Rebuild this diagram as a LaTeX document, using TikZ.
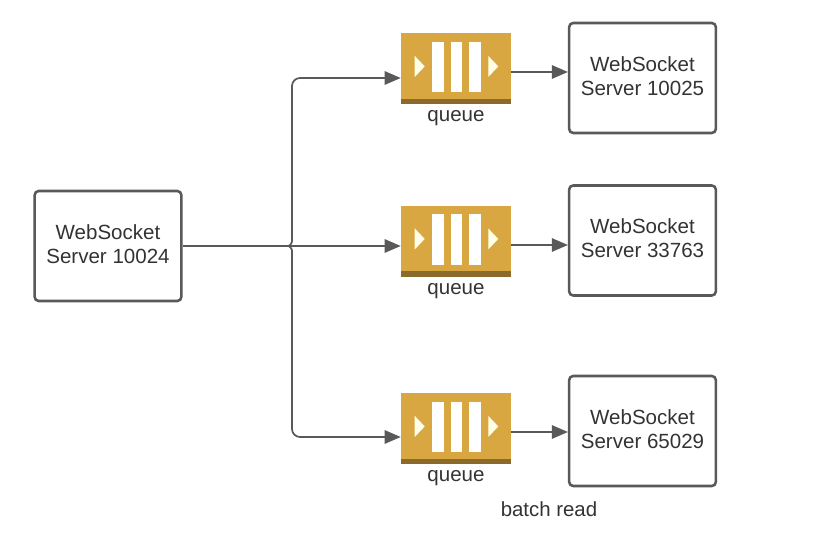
\documentclass[tikz,border=0pt]{standalone}
\usepackage{fontspec}
\setmainfont{Liberation Sans}
\usetikzlibrary{arrows.meta}
\definecolor{gold}{HTML}{D9A741}
\definecolor{goldd}{HTML}{8C6A2C}
\definecolor{ln}{HTML}{595959}
\definecolor{tx}{HTML}{333333}
\tikzset{
  serverbox/.style={draw=ln,line width=1.9pt,rounded corners=3pt,fill=white,minimum width=110pt,minimum height=82.5pt,inner sep=0pt,align=center,text=tx,font=\fontsize{15.4}{18}\selectfont},
  queuebox/.style={fill=gold,minimum width=82.5pt,minimum height=53pt,inner sep=0pt},
  qlabel/.style={text=tx,font=\fontsize{15.4}{18}\selectfont,inner sep=0pt},
  plainlabel/.style={text=tx,font=\fontsize{15.3}{18}\selectfont,inner sep=0pt},
  conn/.style={draw=ln,line width=1.3pt,-{Triangle[length=12pt,width=10pt]}},
  connline/.style={draw=ln,line width=1.3pt},
  pic tri/.style={fill=white!90!yellow}
}
\newcommand{\queueicon}[1]{%
  \fill[goldd] ([yshift=4pt]#1.south west) rectangle (#1.south east);
  \foreach \dx in {-13.7,0.3,14.3}{
    \fill[white] ([xshift=\dx pt-4.4pt,yshift=-6.8pt]#1.north) rectangle ([xshift=\dx pt+4.4pt,yshift=-44.5pt]#1.north);
  }
  \fill[pic tri] ([xshift=10.5pt,yshift=-17.25pt]#1.north west) -- ++(7.5pt,-7.9pt) -- ++(-7.5pt,-7.9pt) -- cycle;
  \fill[pic tri] ([xshift=-17.25pt,yshift=-17.25pt]#1.north east) -- ++(7.5pt,-7.9pt) -- ++(-7.5pt,-7.9pt) -- cycle;
}
\begin{document}
\begin{tikzpicture}[x=0.75pt,y=-0.75pt]
\useasboundingbox (0,0) rectangle (828,559);
\node[serverbox] (src) at (108,246) {\raisebox{3.3pt}{WebSocket}\\\raisebox{3.3pt}{Server 10024}};
\node[serverbox] (s1) at (642.5,78) {\raisebox{3.3pt}{WebSocket}\\\raisebox{3.3pt}{Server 10025}};
\node[serverbox] (s2) at (642.5,240.5) {\raisebox{3.3pt}{WebSocket}\\\raisebox{3.3pt}{Server 33763}};
\node[serverbox] (s3) at (642.5,431) {\raisebox{3.3pt}{WebSocket}\\\raisebox{3.3pt}{Server 65029}};
\node[queuebox] (q1) at (456,68.5) {};
\node[queuebox] (q2) at (456,241) {};
\node[queuebox] (q3) at (456,428.5) {};
\queueicon{q1}\queueicon{q2}\queueicon{q3}
\node[qlabel] (l1) at (456,118) {queue};
\node[qlabel] (l2) at (456,291) {queue};
\node[qlabel] (l3) at (456,478) {queue};
\node[plainlabel] (b) at (549,509) {batch read};
\coordinate (jt) at (292,78);
\coordinate (jb) at (292,437);
\coordinate (ha) at (292,242);
\coordinate (hb) at (292,250);
\coordinate (qi1) at (q1.west |- jt);
\coordinate (qi3) at (q3.west |- jb);
\coordinate (qi2) at (q2.west |- src.east);
\draw[conn] (src.east) -- (qi2);
\draw[conn,rounded corners=6pt] (ha) -- (jt) -- (qi1);
\draw[conn,rounded corners=6pt] (hb) -- (jb) -- (qi3);
\draw[connline] (ha) .. controls (292,245) and (289,245) .. (288.5,246) .. controls (289,247) and (292,247) .. (hb);
\coordinate (o1) at (q1.east |- 0,72);
\coordinate (o2) at (q2.east |- 0,245);
\coordinate (o3) at (q3.east |- 0,432);
\draw[conn] (o1) -- (s1.west |- o1);
\draw[conn] (o2) -- (s2.west |- o2);
\draw[conn] (o3) -- (s3.west |- o3);
\end{tikzpicture}
\end{document}
